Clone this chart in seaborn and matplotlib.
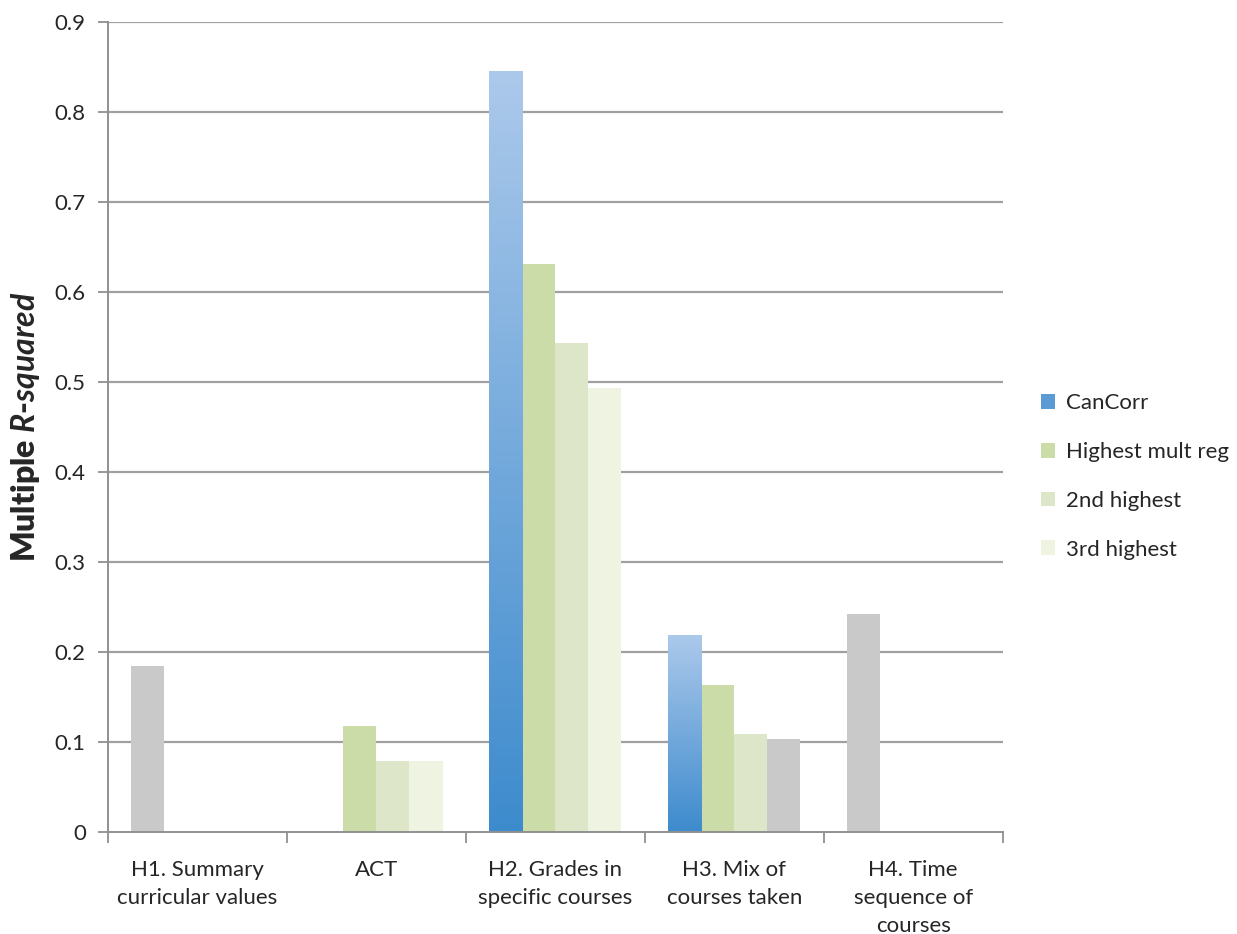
import numpy as np
import pandas as pd
import matplotlib
matplotlib.use('Agg')
import matplotlib.pyplot as plt
from matplotlib.patches import Patch
from matplotlib.colors import LinearSegmentedColormap
import seaborn as sns

# data
categories = ['H1. Summary\ncurricular values', 'ACT', 'H2. Grades in\nspecific courses',
              'H3. Mix of\ncourses taken', 'H4. Time\nsequence of\ncourses']
series = ['CanCorr', 'Highest mult reg', '2nd highest', '3rd highest']
cancorr = [0.185, None, 0.846, 0.219, 0.242]
highest = [None, 0.118, 0.631, 0.163, None]
second = [None, 0.079, 0.543, 0.109, None]
third = [None, 0.079, 0.493, 0.103, None]
# bars that are drawn grey in the original (category, series)
grey_bars = [(0, 'CanCorr'), (3, '3rd highest'), (4, 'CanCorr')]

colors = {'CanCorr': '#5b9bd5', 'Highest mult reg': '#ccdca9',
          '2nd highest': '#dde6c8', '3rd highest': '#eef3e2'}
grey = '#c9c9c9'

rows = []
for s, vals in zip(series, [cancorr, highest, second, third]):
    for c, v in zip(categories, vals):
        rows.append({'cat': c, 'series': s, 'value': 0.0 if v is None else v})
df = pd.DataFrame(rows)

sns.set_style('white')
plt.rcParams['font.family'] = ['Lato', 'DejaVu Sans']
plt.rcParams['mathtext.fontset'] = 'custom'
plt.rcParams['mathtext.bfit'] = 'Lato:italic:bold'
plt.rcParams['mathtext.bf'] = 'Lato:bold'

fig = plt.figure(figsize=(12.37, 9.34), dpi=100)
ax = fig.add_axes([0.0873, 0.1092, 0.7232, 0.8672])

sns.barplot(data=df, x='cat', y='value', hue='series', order=categories,
            hue_order=series, palette=colors, width=0.74, gap=0,
            edgecolor='none', linewidth=0, saturation=1, legend=False, ax=ax)

blue_cmap = LinearSegmentedColormap.from_list('b', ['#3d8bcd', '#acc9eb'])
for s, cont in zip(series, ax.containers):
    for i, bar in enumerate(cont):
        if (i, s) in grey_bars:
            bar.set_facecolor(grey)
        elif s == 'CanCorr' and bar.get_height() > 0:
            x0, w, h = bar.get_x(), bar.get_width(), bar.get_height()
            grad = np.linspace(0, 1, 256).reshape(-1, 1)
            im = ax.imshow(grad, cmap=blue_cmap, origin='lower', aspect='auto',
                           extent=[x0, x0 + w, 0, h], zorder=bar.get_zorder())
            im.set_clip_path(bar)
            bar.set_facecolor('none')

ax.set_xlim(-0.5, len(categories) - 0.5)
ax.set_ylim(0, 0.9)
yt = np.round(np.arange(0, 0.91, 0.1), 1)
ax.set_yticks(yt)
ax.set_yticklabels(['0'] + [f'{v:.1f}' for v in yt[1:]], fontsize=16)
for v in yt[1:]:
    ax.axhline(v, color='#a0a0a0', lw=1.6, zorder=0)

ax.set_xticks(np.arange(-0.5, len(categories), 1))
ax.set_xticklabels([])
ax.set_xticks(np.arange(len(categories)), minor=True)
ax.set_xticklabels(categories, minor=True, fontsize=16, linespacing=1.5, va='top')
ax.tick_params(axis='x', which='minor', length=0, pad=20)
ax.tick_params(axis='x', which='major', length=8, width=1.3, color='#909090', direction='out')
ax.tick_params(axis='y', length=7, width=1.3, color='#909090', direction='out', pad=9)
ax.xaxis.set_tick_params(bottom=True, which='both')
ax.yaxis.set_tick_params(left=True)

for side in ['top', 'right']:
    ax.spines[side].set_visible(False)
for side in ['left', 'bottom']:
    ax.spines[side].set_color('#909090')
    ax.spines[side].set_linewidth(1.4)

ax.set_xlabel('')
ax.set_ylabel(r'Multiple $\mathbfit{R}$-$\mathbfit{squared}$', fontsize=23,
              fontweight='heavy', labelpad=9)

handles = [Patch(facecolor=colors[s], edgecolor='none') for s in series]
fig.legend(handles, series, loc='center left', bbox_to_anchor=(0.825, 0.49),
           frameon=False, fontsize=16, handlelength=0.65, handleheight=0.65,
           handletextpad=0.5, labelspacing=1.3)

fig.savefig('out.png', dpi=100)
